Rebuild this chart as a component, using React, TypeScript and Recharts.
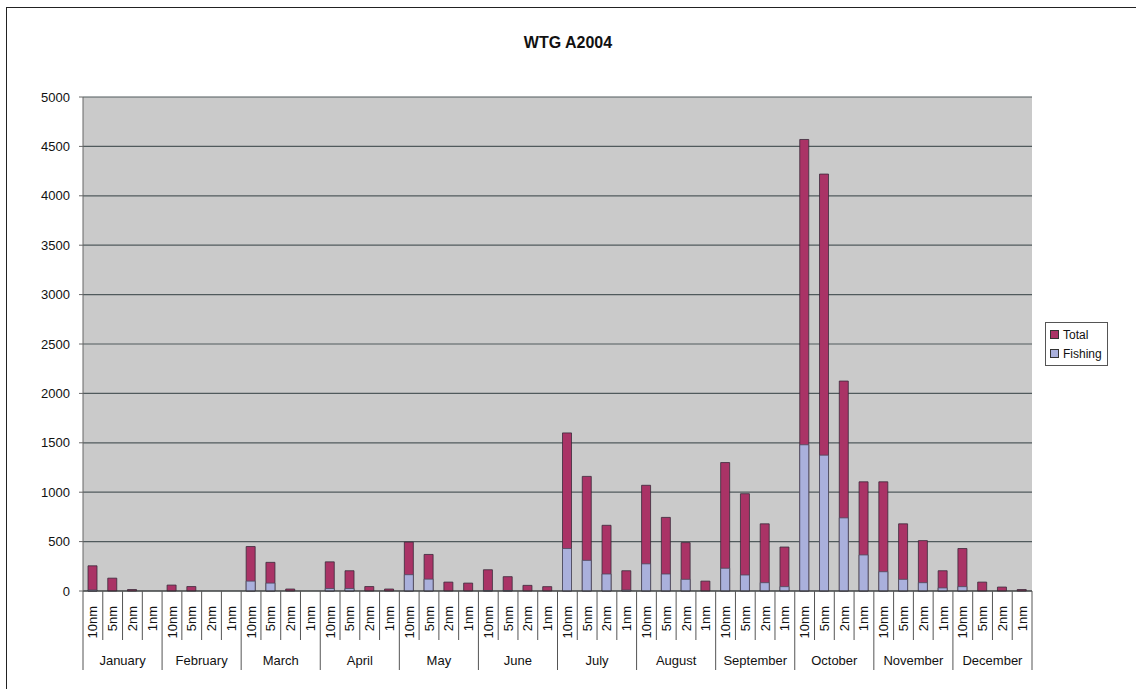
import React from 'react';
import { BarChart, Bar, XAxis, YAxis, CartesianGrid, Legend } from 'recharts';

const months = ['January', 'February', 'March', 'April', 'May', 'June', 'July', 'August', 'September', 'October', 'November', 'December'];
const distances = ['10nm', '5nm', '2nm', '1nm'];
const seriesOrder = ['Total', 'Fishing'];

// four distance bands per month, in month order
const totalValues = [
    255, 130, 15, 0,
    60, 45, 0, 0,
    450, 290, 20, 0,
    295, 205, 45, 20,
    495, 370, 90, 80,
    215, 145, 57, 44,
    1600, 1160, 665, 205,
    1070, 745, 490, 100,
    1300, 985, 680, 445,
    4570, 4220, 2125, 1105,
    1105, 680, 510, 205,
    430, 90, 40, 15,
];
const fishingValues = [
    10, 0, 0, 0,
    0, 0, 0, 0,
    100, 80, 0, 0,
    25, 25, 0, 0,
    165, 120, 0, 0,
    5, 5, 0, 0,
    430, 310, 172, 10,
    275, 172, 118, 0,
    230, 162, 84, 44,
    1480, 1375, 740, 365,
    195, 118, 84, 31,
    44, 0, 0, 0,
];
const yTicks = [0, 500, 1000, 1500, 2000, 2500, 3000, 3500, 4000, 4500, 5000];

const FONT = '"Liberation Sans", Arial, sans-serif';
const CHART_W = 1136;
const CHART_H = 689;
const margin = { top: 97, right: 104, bottom: 18, left: 33 };
const Y_AXIS_W = 50;
const X_AXIS_H = 80;
const plotWidth = CHART_W - margin.left - margin.right - Y_AXIS_W;
const band = plotWidth / (months.length * distances.length);

const data = totalValues.map((total, i) => ({
    key: `${months[Math.floor(i / 4)]} ${distances[i % 4]}`,
    total,
    fishing: fishingValues[i],
}));

const CategoryTick = (props: any) => {
    const { x, y } = props;
    const i: number = props.index ?? props.payload.index;
    const left = x - band / 2;
    const monthStart = i % 4 === 0;
    return (
        <g>
            <line x1={left} y1={y} x2={left} y2={y + (monthStart ? 79 : 49)} stroke="#555" strokeWidth={1} />
            {i === data.length - 1 && (
                <line x1={left + band} y1={y} x2={left + band} y2={y + 79} stroke="#555" strokeWidth={1} />
            )}
            <text
                x={x}
                y={y + 15}
                dy="0.35em"
                textAnchor="end"
                transform={`rotate(-90, ${x}, ${y + 15})`}
                fontSize={13}
                fontFamily={FONT}
                fill="#111"
            >
                {distances[i % 4]}
            </text>
            {i % 4 === 1 && (
                <text x={x + band / 2} y={y + 74} textAnchor="middle" fontSize={13} fontFamily={FONT} fill="#111">
                    {months[Math.floor(i / 4)]}
                </text>
            )}
        </g>
    );
};

const LegendBox = (props: any) => {
    const items = [...(props.payload || [])].sort(
        (a: any, b: any) => seriesOrder.indexOf(a.value) - seriesOrder.indexOf(b.value)
    );
    return (
        <div style={{ border: '1px solid #555', background: '#fff', padding: '2px 5px 2px 4px', fontFamily: FONT, fontSize: 12, color: '#111' }}>
            {items.map((item: any) => (
                <div key={item.value} style={{ display: 'flex', alignItems: 'center', height: 19 }}>
                    <span style={{ width: 7, height: 7, background: item.color, border: '1px solid #333', marginRight: 4 }} />
                    {item.value}
                </div>
            ))}
        </div>
    );
};

export default function App() {
    return (
        <div style={{ position: 'fixed', left: 0, top: 0, width: CHART_W, height: CHART_H, overflow: 'hidden', background: '#fff' }}>
            <div style={{ position: 'absolute', left: 6, top: 7, width: 1200, height: 720, borderLeft: '1.5px solid #222', borderTop: '1.5px solid #222' }} />
            <div style={{ position: 'absolute', left: 0, top: 33, width: CHART_W, textAlign: 'center', fontFamily: FONT, fontWeight: 'bold', fontSize: 16, lineHeight: '20px', color: '#111' }}>
                WTG A2004
            </div>
            <div style={{ position: 'absolute', left: 0, top: 0 }}>
                <BarChart width={CHART_W} height={CHART_H} data={data} margin={margin} barGap={-9}>
                    <CartesianGrid vertical={false} fill="#cacaca" stroke="#505a5c" strokeWidth={1.2} />
                    <XAxis
                        dataKey="key"
                        interval={0}
                        height={X_AXIS_H}
                        tickSize={0}
                        tickMargin={0}
                        tickLine={false}
                        axisLine={{ stroke: '#333' }}
                        tick={<CategoryTick />}
                    />
                    <YAxis
                        width={Y_AXIS_W}
                        domain={[0, 5000]}
                        ticks={yTicks}
                        interval={0}
                        tickSize={4}
                        tickMargin={9}
                        axisLine={{ stroke: '#666' }}
                        tickLine={{ stroke: '#666' }}
                        tick={{ fontSize: 13, fontFamily: FONT, fill: '#111' }}
                    />
                    <Legend
                        layout="vertical"
                        verticalAlign="middle"
                        align="center"
                        wrapperStyle={{ left: 1045, top: 322, width: 'auto' }}
                        content={<LegendBox />}
                    />
                    <Bar dataKey="total" name="Total" fill="#aa3366" stroke="#3a2a3a" strokeWidth={0.8} barSize={9} isAnimationActive={false} />
                    <Bar dataKey="fishing" name="Fishing" fill="#aab0dc" stroke="#4a4a5a" strokeWidth={0.8} barSize={9} isAnimationActive={false} />
                </BarChart>
            </div>
        </div>
    );
}
